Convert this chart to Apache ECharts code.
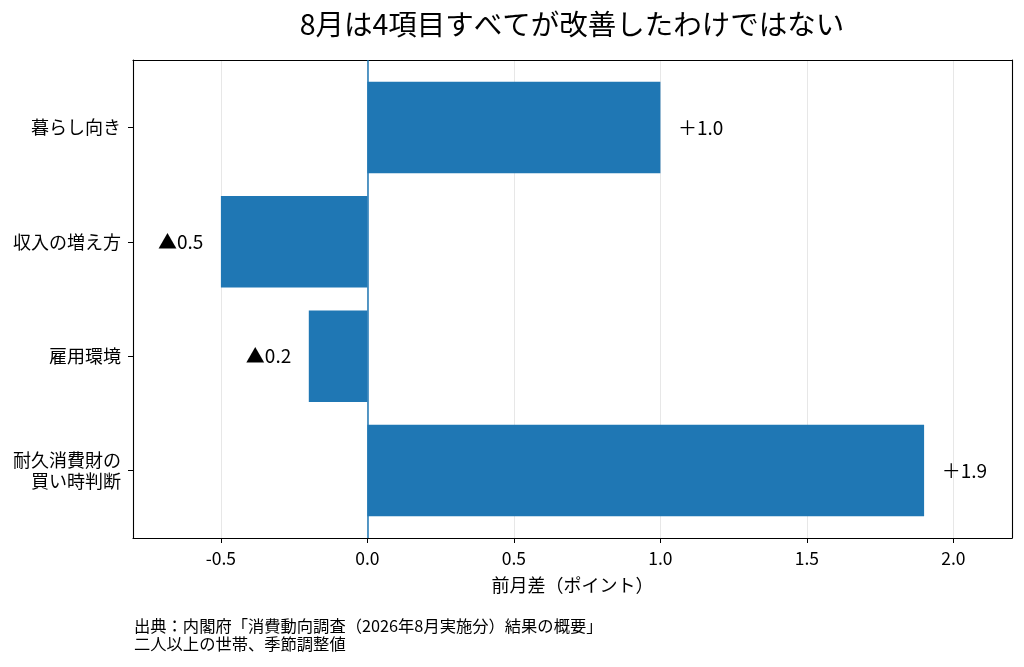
<!DOCTYPE html>
<html>
<head>
<meta charset="utf-8">
<script src="https://cdn.jsdelivr.net/npm/echarts@6/dist/echarts.min.js"></script>
<style>
  html, body { margin: 0; padding: 0; background: #fff; }
  #chart { width: 1024px; height: 667px; }
</style>
</head>
<body>
<div id="chart"></div>
<script>
// データ
const categories = ['暮らし向き', '収入の増え方', '雇用環境', '耐久消費財の\n買い時判断'];
const diffValues = [1.0, -0.5, -0.2, 1.9];
const diffLabels = ['＋1.0', '▲0.5', '▲0.2', '＋1.9'];
const xTicks = [-0.5, 0.0, 0.5, 1.0, 1.5, 2.0];
const yTicks = [0, 1, 2, 3];

const FONT = '"Noto Sans CJK JP", "Noto Sans", sans-serif';
const BAR_COLOR = '#1f77b4';
const BAR_HALF = 0.4;

const seriesData = diffValues.map((v, i) => [v, i, diffLabels[i]]);

const myChart = echarts.init(document.getElementById('chart'));
myChart.setOption({
    animation: false,
    textStyle: { fontFamily: FONT },
    title: {
        text: '8月は4項目すべてが改善したわけではない',
        left: 572,
        top: 10,
        textAlign: 'center',
        padding: 0,
        textStyle: { fontFamily: FONT, fontSize: 28.5, fontWeight: 'normal', color: '#000' }
    },
    grid: {
        left: 133, right: 12, top: 60, bottom: 129,
        show: false
    },
    xAxis: [{
        type: 'value',
        min: -0.8,
        max: 2.2,
        position: 'bottom',
        name: '前月差（ポイント）',
        nameLocation: 'middle',
        nameGap: 38,
        nameTextStyle: { fontFamily: FONT, fontSize: 18, color: '#000' },
        axisLine: { show: true, onZero: false, lineStyle: { color: '#000', width: 1.1 } },
        axisTick: { show: true, length: 5, customValues: xTicks, lineStyle: { color: '#000', width: 1 } },
        axisLabel: {
            customValues: xTicks,
            margin: 12,
            fontSize: 17.5,
            color: '#000',
            formatter: v => v.toFixed(1)
        },
        splitLine: { show: true, lineStyle: { color: 'rgba(176,176,176,0.3)', width: 1 } }
    }, {
        // 上側の枠線
        type: 'value',
        min: -0.8,
        max: 2.2,
        position: 'top',
        axisLine: { show: true, onZero: false, lineStyle: { color: '#000', width: 1.1 } },
        axisTick: { show: false },
        axisLabel: { show: false },
        splitLine: { show: false }
    }],
    yAxis: [{
        type: 'value',
        inverse: true,
        min: -0.59,
        max: 3.59,
        position: 'left',
        axisLine: { show: true, onZero: false, lineStyle: { color: '#000', width: 1.1 } },
        axisTick: { show: true, length: 5, customValues: yTicks, lineStyle: { color: '#000', width: 1 } },
        axisLabel: {
            customValues: yTicks,
            margin: 12,
            fontSize: 18,
            lineHeight: 21,
            color: '#000',
            align: 'right',
            formatter: v => categories[Math.round(v)] || ''
        },
        splitLine: { show: false }
    }, {
        // 右側の枠線
        type: 'value',
        inverse: true,
        min: -0.59,
        max: 3.59,
        position: 'right',
        axisLine: { show: true, onZero: false, lineStyle: { color: '#000', width: 1.1 } },
        axisTick: { show: false },
        axisLabel: { show: false },
        splitLine: { show: false }
    }],
    series: [{
        type: 'custom',
        data: seriesData,
        encode: { x: 0, y: 1 },
        z: 1,
        renderItem: (params, api) => {
            const v = api.value(0);
            const i = api.value(1);
            const p0 = api.coord([0, i - BAR_HALF]);
            const p1 = api.coord([v, i + BAR_HALF]);
            const off = v >= 0 ? 0.06 : -0.06;
            const tp = api.coord([v + off, i]);
            return {
                type: 'group',
                children: [{
                    type: 'rect',
                    shape: {
                        x: Math.min(p0[0], p1[0]),
                        y: Math.min(p0[1], p1[1]),
                        width: Math.abs(p1[0] - p0[0]),
                        height: Math.abs(p1[1] - p0[1])
                    },
                    style: { fill: BAR_COLOR }
                }, {
                    type: 'text',
                    x: tp[0],
                    y: tp[1],
                    style: {
                        text: seriesData[params.dataIndex][2],
                        fontFamily: FONT,
                        fontSize: 19,
                        fill: '#000',
                        align: v >= 0 ? 'left' : 'right',
                        verticalAlign: 'middle'
                    }
                }]
            };
        },
        markLine: {
            silent: true,
            symbol: 'none',
            label: { show: false },
            z: 5,
            lineStyle: { color: BAR_COLOR, width: 1.5, type: 'solid', opacity: 1 },
            data: [{ xAxis: 0 }]
        }
    }],
    graphic: [{
        type: 'text',
        left: 134,
        top: 617,
        style: {
            text: '出典：内閣府「消費動向調査（2026年8月実施分）結果の概要」\n二人以上の世帯、季節調整値',
            fontFamily: FONT,
            fontSize: 16.3,
            lineHeight: 18,
            fill: '#000'
        }
    }]
});
</script>
</body>
</html>
